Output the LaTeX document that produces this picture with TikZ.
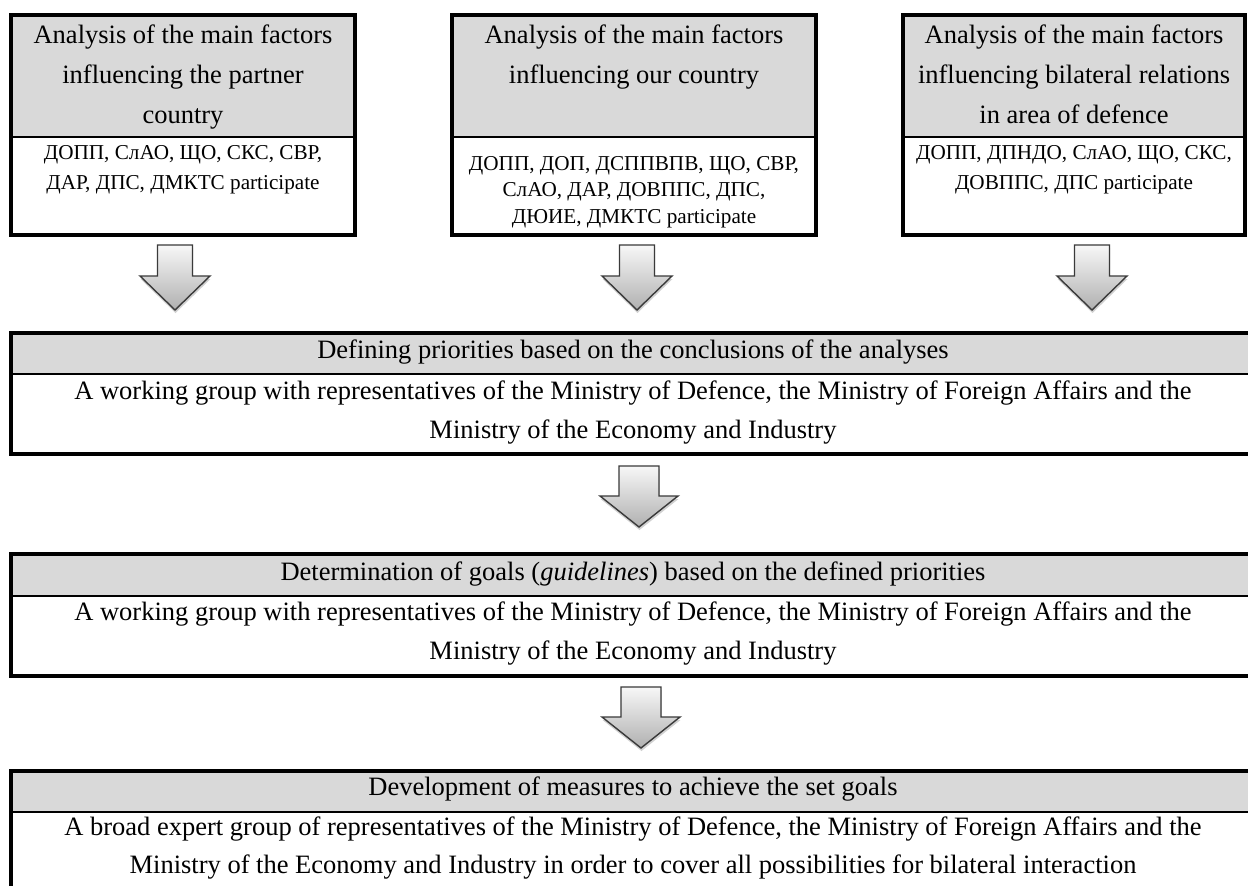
\documentclass[tikz,border=0pt]{standalone}
\usepackage{fontspec}
\setmainfont{Liberation Serif}
\usetikzlibrary{shadows}
\definecolor{hdrgray}{HTML}{D9D9D9}
\definecolor{arrowtop}{HTML}{F7F7F7}
\definecolor{arrowbot}{HTML}{B0B0B0}
\definecolor{arrowline}{HTML}{3A3A3A}
\tikzset{
  hdrbox/.style={draw=black, line width=2.2pt, fill=hdrgray, inner sep=0pt, outer sep=0pt, anchor=north west},
  bodybox/.style={draw=black, line width=2.2pt, fill=white, inner sep=0pt, outer sep=0pt, anchor=north west},
  frame/.style={draw=black, line width=3.5pt},
  bigtext/.style={inner sep=0pt, anchor=north, align=center, font=\fontsize{26.5}{40}\selectfont},
  midtext/.style={inner sep=0pt, anchor=north, align=center, font=\fontsize{26.5}{39}\selectfont},
  smalltext/.style={inner sep=0pt, anchor=north, align=center, font=\fontsize{21.2}{30}\selectfont},
  smalltight/.style={inner sep=0pt, anchor=north, align=center, font=\fontsize{21.2}{26.5}\selectfont},
  blockarrow/.style={draw=arrowline, line width=1.4pt, line join=miter, top color=arrowtop, bottom color=arrowbot,
    drop shadow={shadow xshift=0.5pt, shadow yshift=-3pt, opacity=0.18, fill=black}},
}
\begin{document}
\begin{tikzpicture}[x=1pt,y=-1pt]
\useasboundingbox (0,0) rectangle (1248,886);
\clip (0,0) rectangle (1248,886);
\fill[white] (0,0) rectangle (1248,886);

% ---------- top row ----------
\node[hdrbox, minimum width=344pt, minimum height=122pt] (h1) at (11,15) {};
\node[bodybox, minimum width=344pt, minimum height=98pt] (b1) at (11,137) {};
\draw[frame] (h1.north west) rectangle (b1.south east);

\node[hdrbox, minimum width=364pt, minimum height=122pt] (h2) at (452,15) {};
\node[bodybox, minimum width=364pt, minimum height=98pt] (b2) at (452,137) {};
\draw[frame] (h2.north west) rectangle (b2.south east);

\node[hdrbox, minimum width=342pt, minimum height=122pt] (h3) at (903,15) {};
\node[bodybox, minimum width=342pt, minimum height=98pt] (b3) at (903,137) {};
\draw[frame] (h3.north west) rectangle (b3.south east);

\node[bigtext] (t1) at (183,15) {\strut Analysis of the main factors\\influencing the partner\\country};
\node[smalltext] (s1) at (183,138) {\strut ДОПП, СлАО, ЩО, СКС, СВР,\\ДАР, ДПС, ДМКТС participate};

\node[bigtext] (t2) at (634,15) {\strut Analysis of the main factors\\influencing our country};
\node[smalltight] (s2) at (634,151.5) {\strut ДОПП, ДОП, ДСППВПВ, ЩО, СВР,\\СлАО, ДАР, ДОВППС, ДПС,\\ДЮИЕ, ДМКТС participate};

\node[bigtext] (t3) at (1074,15) {\strut Analysis of the main factors\\influencing bilateral relations\\in area of defence};
\node[smalltext] (s3) at (1074,138) {\strut ДОПП, ДПНДО, СлАО, ЩО, СКС,\\ДОВППС, ДПС participate};

% ---------- middle boxes ----------
\node[hdrbox, minimum width=1245pt, minimum height=41pt] (h4) at (11,333) {};
\node[bodybox, minimum width=1245pt, minimum height=80pt] (b4) at (11,374) {};
\draw[frame] (h4.north west) rectangle (b4.south east);
\node[midtext] (t4) at (633,331) {\strut Defining priorities based on the conclusions of the analyses};
\node[midtext] (s4) at (633,371.7) {\strut A working group with representatives of the Ministry of Defence, the Ministry of Foreign Affairs and the\\Ministry of the Economy and Industry};

\node[hdrbox, minimum width=1245pt, minimum height=42pt] (h5) at (11,554) {};
\node[bodybox, minimum width=1245pt, minimum height=80pt] (b5) at (11,596) {};
\draw[frame] (h5.north west) rectangle (b5.south east);
\node[midtext] (t5) at (633,553) {\strut Determination of goals (\textit{guidelines}) based on the defined priorities};
\node[midtext] (s5) at (633,592.7) {\strut A working group with representatives of the Ministry of Defence, the Ministry of Foreign Affairs and the\\Ministry of the Economy and Industry};

\node[hdrbox, minimum width=1245pt, minimum height=41pt] (h6) at (11,771) {};
\node[bodybox, minimum width=1245pt, minimum height=90pt] (b6) at (11,812) {};
\draw[frame] (h6.north west) rectangle (b6.south east);
\node[midtext] (t6) at (633,768) {\strut Development of measures to achieve the set goals};
\node[midtext, font=\fontsize{26.5}{38}\selectfont] (s6) at (633,808.4) {\strut A broad expert group of representatives of the Ministry of Defence, the Ministry of Foreign Affairs and the\\Ministry of the Economy and Industry in order to cover all possibilities for bilateral interaction};

% ---------- block arrows ----------
\coordinate (a1) at (175,245);
\coordinate (a2) at (637,245);
\coordinate (a3) at (1092,245);
\foreach \a in {a1,a2,a3}{
  \path[blockarrow, shift={(\a)}] (-17.5,0) -- (17.5,0) -- (17.5,31) -- (35,31) -- (0,65) -- (-35,31) -- (-17.5,31) -- cycle;
}
\coordinate (a4) at (639,466);
\coordinate (a5) at (641,687);
\foreach \a in {a4,a5}{
  \path[blockarrow, shift={(\a)}] (-20,0) -- (20,0) -- (20,30) -- (39,30) -- (0,61) -- (-39,30) -- (-20,30) -- cycle;
}
\end{tikzpicture}
\end{document}
